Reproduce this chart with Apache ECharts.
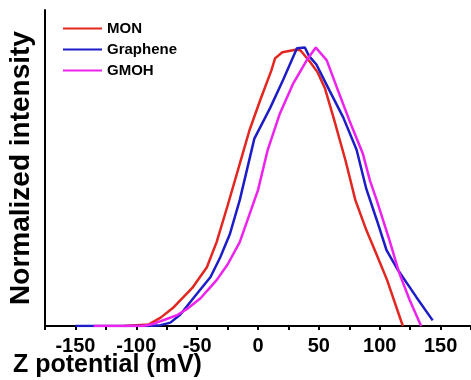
<!DOCTYPE html>
<html>
<head>
<meta charset="utf-8">
<script src="https://cdn.jsdelivr.net/npm/echarts@6/dist/echarts.min.js"></script>
<style>
  html, body { margin: 0; padding: 0; background: #fff; }
  #chart { width: 471px; height: 380px; }
</style>
</head>
<body>
<div id="chart"></div>
<script>
// [zeta potential (mV), normalized intensity]
const monData = [
  [-110, 0], [-90, 0.005], [-80, 0.03], [-70, 0.064], [-54, 0.136], [-42, 0.21],
  [-34, 0.30], [-25, 0.43], [-15, 0.58], [-7, 0.70], [2, 0.81], [11, 0.914],
  [14, 0.957], [20, 0.979], [32, 0.989], [35, 0.985], [43, 0.943], [49, 0.907],
  [55, 0.85], [62, 0.746], [72, 0.59], [80, 0.45], [89, 0.343], [97, 0.26],
  [106, 0.165], [119, 0]
];
const grapheneData = [
  [-150, 0], [-90, 0], [-80, 0.003], [-72, 0.012], [-64, 0.04], [-53, 0.10],
  [-39, 0.175], [-31, 0.246], [-23, 0.33], [-15, 0.45], [-3, 0.67], [10, 0.78],
  [20.5, 0.879], [32, 0.993], [38.5, 0.996], [42, 0.965], [48, 0.935], [59, 0.84],
  [70, 0.746], [81, 0.63], [89, 0.49], [97.5, 0.38], [105.7, 0.27], [115, 0.2],
  [130, 0.104], [143.5, 0.02]
];
const gmohData = [
  [-135, 0], [-95, 0], [-88, 0.005], [-75, 0.025], [-66, 0.04], [-58, 0.062],
  [-47, 0.10], [-42, 0.125], [-34, 0.164], [-25, 0.22], [-15, 0.30], [0, 0.486],
  [8, 0.63], [18, 0.76], [29, 0.868], [40, 0.95], [47.5, 0.996], [56.5, 0.95],
  [64.7, 0.854], [75, 0.736], [86, 0.618], [92, 0.52], [97.5, 0.45], [108, 0.307],
  [116, 0.19], [124.6, 0.093], [134, 0]
];
const seriesNames = ['MON', 'Graphene', 'GMOH'];
const seriesColors = ['#e3261f', '#1c1cc8', '#ee22ee'];

const font = "'Liberation Sans', Arial, sans-serif";
const chart = echarts.init(document.getElementById('chart'));

const option = {
  animation: false,
  backgroundColor: '#fff',
  grid: { left: 45, right: 0, top: 10, bottom: 54, outerBoundsMode: 'none' },
  legend: {
    orient: 'vertical',
    left: 63,
    top: 18,
    padding: 0,
    itemGap: 0,
    itemWidth: 39,
    itemHeight: 2,
    icon: 'rect',
    data: seriesNames,
    textStyle: { fontFamily: font, fontWeight: 'bold', fontSize: 15, color: '#000', lineHeight: 21 }
  },
  xAxis: {
    type: 'value',
    min: -175,
    max: 175,
    interval: 25,
    name: 'Z potential (mV)',
    nameLocation: 'start',
    nameGap: 32,
    nameMoveOverlap: false,
    nameTextStyle: {
      fontFamily: font, fontWeight: 'bold', fontSize: 25, color: '#000',
      align: 'left', verticalAlign: 'top', padding: [27, 0, 0, 0]
    },
    axisLine: { onZero: false, lineStyle: { color: '#000', width: 2 } },
    axisTick: { length: 4, lineStyle: { color: '#000', width: 2 } },
    axisLabel: {
      margin: 10,
      fontFamily: font, fontWeight: 'bold', fontSize: 20, color: '#000',
      formatter: v => (v % 50 === 0 ? String(v) : '')
    },
    splitLine: { show: false }
  },
  yAxis: {
    type: 'value',
    min: 0,
    max: 1.13,
    name: 'Normalized intensity',
    nameLocation: 'middle',
    nameRotate: 90,
    nameGap: 10,
    nameTextStyle: { fontFamily: font, fontWeight: 'bold', fontSize: 28, color: '#000' },
    axisLine: { show: true, onZero: false, lineStyle: { color: '#000', width: 2 } },
    axisTick: { show: false },
    axisLabel: { show: false },
    splitLine: { show: false }
  },
  series: [monData, grapheneData, gmohData].map((d, i) => ({
    name: seriesNames[i],
    type: 'line',
    data: d,
    symbol: 'none',
    color: seriesColors[i],
    lineStyle: { color: seriesColors[i], width: 2.5 }
  }))
};

chart.setOption(option);
</script>
</body>
</html>
